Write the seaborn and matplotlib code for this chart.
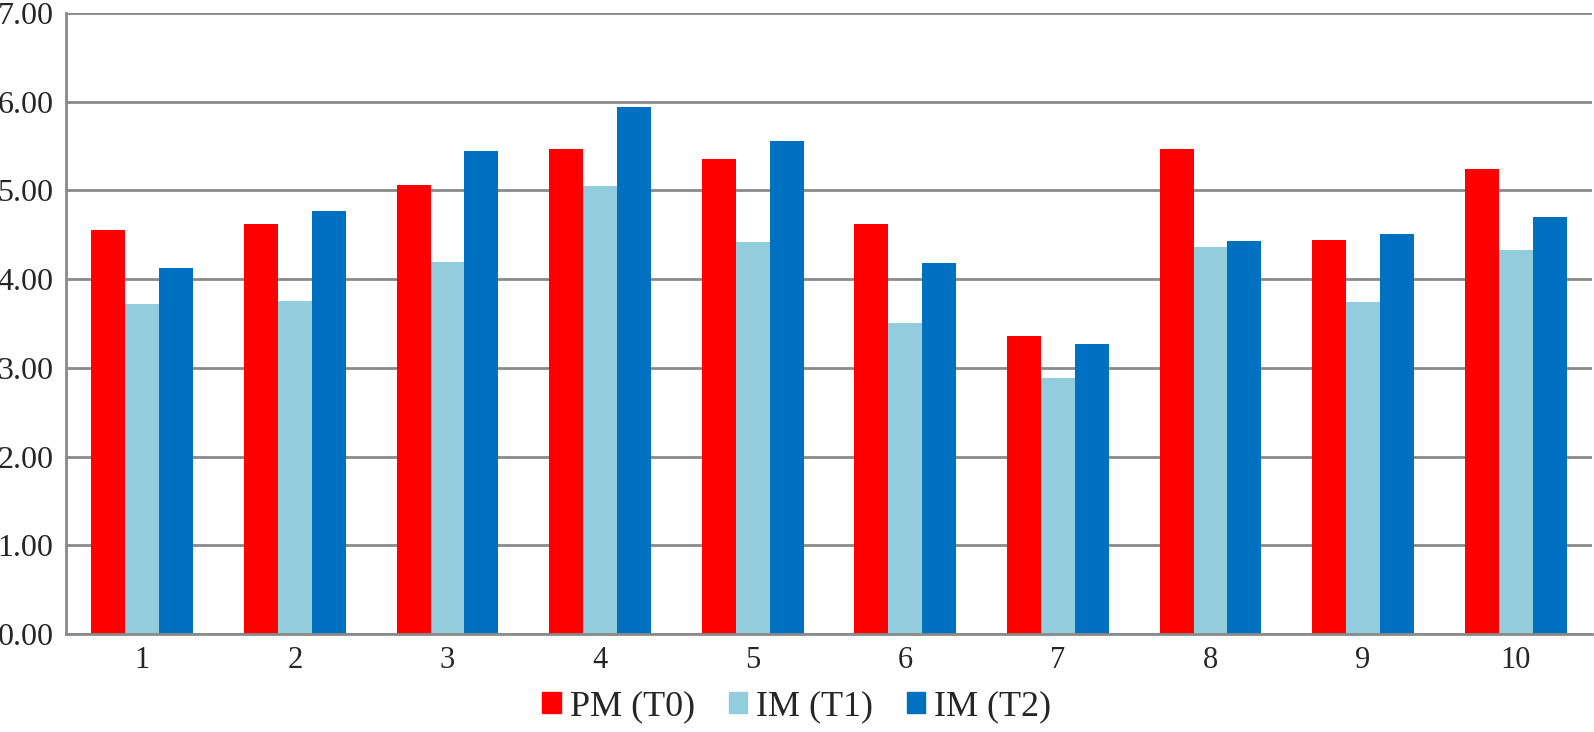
"""Grouped bar chart: PM (T0) vs IM (T1) vs IM (T2) for ten items."""

import matplotlib

matplotlib.use("Agg")
import matplotlib.pyplot as plt
import pandas as pd
import seaborn as sns
from matplotlib.ticker import FormatStrFormatter

# Data
groups = ["1", "2", "3", "4", "5", "6", "7", "8", "9", "10"]
pm_t0 = [4.55, 4.62, 5.06, 5.47, 5.35, 4.62, 3.36, 5.47, 4.44, 5.24]
im_t1 = [3.72, 3.75, 4.19, 5.05, 4.42, 3.51, 2.89, 4.36, 3.74, 4.33]
im_t2 = [4.13, 4.77, 5.44, 5.94, 5.56, 4.18, 3.27, 4.43, 4.51, 4.70]
series_names = ["PM (T0)", "IM (T1)", "IM (T2)"]
colors = ["#FF0000", "#93CDDD", "#0070C0"]

df = pd.DataFrame(
    {
        "Group": groups * 3,
        "Value": pm_t0 + im_t1 + im_t2,
        "Series": [s for s in series_names for _ in groups],
    }
)

sns.set_style("white")
plt.rcParams["font.family"] = ["Liberation Serif", "DejaVu Serif"]

grid_color = "#8a8a8a"

fig = plt.figure(figsize=(15.94, 7.32), dpi=100)
ax = fig.add_axes([66 / 1594, 98 / 732, 1526 / 1594, 621 / 732])

sns.barplot(
    data=df,
    x="Group",
    y="Value",
    hue="Series",
    hue_order=series_names,
    order=groups,
    palette=colors,
    saturation=1,
    width=0.668,
    gap=0,
    errorbar=None,
    linewidth=0,
    ax=ax,
    zorder=3,
)

ax.set_ylim(0, 7)
ax.set_yticks(range(0, 8))
ax.yaxis.set_major_formatter(FormatStrFormatter("%.2f"))
ax.yaxis.grid(True, color=grid_color, linewidth=2.0, zorder=0)
ax.set_axisbelow(True)
ax.set_xlabel("")
ax.set_ylabel("")

for side in ("top", "right"):
    ax.spines[side].set_visible(False)
for side in ("left", "bottom"):
    ax.spines[side].set_color(grid_color)
    ax.spines[side].set_linewidth(2.0)
    ax.spines[side].set_zorder(4)

ax.tick_params(axis="y", length=0, pad=9, labelsize=23)
ax.tick_params(axis="x", length=0, pad=9, labelsize=22)

# Legend centered under the figure
ax.get_legend().remove()
handles = [plt.Rectangle((0, 0), 1, 1, color=c) for c in colors]
fig.legend(
    handles,
    series_names,
    loc="center",
    bbox_to_anchor=(0.5, 25 / 732),
    ncol=3,
    frameon=False,
    fontsize=26,
    handlelength=0.5,
    handleheight=0.5,
    handletextpad=0.25,
    columnspacing=0.95,
)

fig.savefig("out.png", dpi=100)
plt.close(fig)
